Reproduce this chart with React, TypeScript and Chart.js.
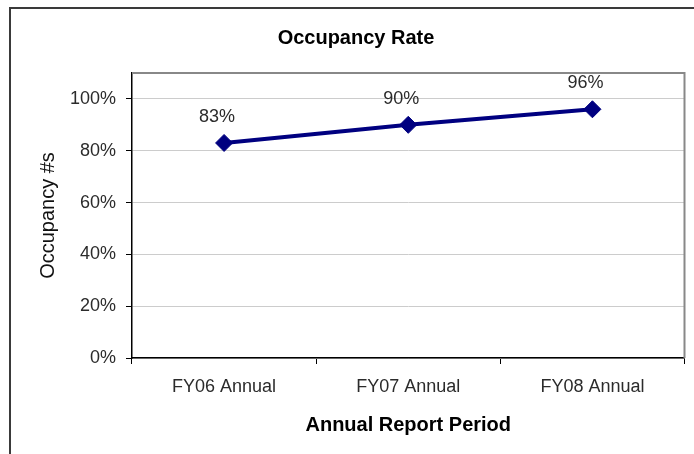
import React, { useEffect, useRef } from "react";
import { Chart, registerables } from "chart.js";

Chart.register(...registerables);

const chartTitle = "Occupancy Rate";
const categories = ["FY06 Annual", "FY07 Annual", "FY08 Annual"];
const occupancy = [83, 90, 96];
const yTicks = [0, 20, 40, 60, 80, 100];
const xAxisTitle = "Annual Report Period";
const yAxisTitle = "Occupancy #s";

const FONT = "'Liberation Sans', Arial, Helvetica, sans-serif";

const framePlugin = {
  id: "frame",
  beforeDraw(chart: any) {
    const { ctx, width, height } = chart;
    ctx.save();
    ctx.fillStyle = "#ffffff";
    ctx.fillRect(0, 0, width, height);
    ctx.strokeStyle = "#3a3a3a";
    ctx.lineWidth = 2;
    ctx.beginPath();
    ctx.moveTo(10, height);
    ctx.lineTo(10, 8);
    ctx.lineTo(width, 8);
    ctx.stroke();
    ctx.restore();
  },
  beforeDatasetsDraw(chart: any) {
    const { ctx, chartArea } = chart;
    ctx.save();
    ctx.strokeStyle = "#888888";
    ctx.lineWidth = 2;
    ctx.beginPath();
    ctx.moveTo(chartArea.left, chartArea.top);
    ctx.lineTo(chartArea.right, chartArea.top);
    ctx.lineTo(chartArea.right, chartArea.bottom);
    ctx.stroke();
    ctx.restore();
  },
};

const labelPlugin = {
  id: "valueLabels",
  afterDatasetsDraw(chart: any) {
    const { ctx } = chart;
    const meta = chart.getDatasetMeta(0);
    ctx.save();
    ctx.font = `18px ${FONT}`;
    ctx.fillStyle = "#2b2b2b";
    ctx.textAlign = "center";
    ctx.textBaseline = "middle";
    meta.data.forEach((pt: any, i: number) => {
      ctx.fillText(`${occupancy[i]}%`, pt.x - 7, pt.y - 26);
    });
    ctx.restore();
  },
};

export default function App() {
  const ref = useRef<HTMLCanvasElement>(null);

  useEffect(() => {
    if (!ref.current) return;
    const chart = new Chart(ref.current, {
      type: "line",
      data: {
        labels: categories,
        datasets: [
          {
            data: occupancy,
            borderColor: "#000080",
            backgroundColor: "#000080",
            borderWidth: 4,
            pointStyle: "rectRot",
            pointRadius: 8.5,
            pointBorderWidth: 1,
            pointBackgroundColor: "#000080",
            pointBorderColor: "#000080",
            tension: 0,
          },
        ],
      },
      options: {
        responsive: false,
        animation: false,
        layout: { padding: { left: 26, right: 8, top: 0, bottom: 0 } },
        plugins: {
          legend: { display: false },
          tooltip: { enabled: false },
          title: {
            display: true,
            text: chartTitle,
            color: "#000",
            font: { family: FONT, size: 20, weight: "bold" },
            padding: { top: 26, bottom: 23 },
          },
        },
        scales: {
          x: {
            type: "category",
            offset: true,
            grid: {
              offset: true,
              drawOnChartArea: false,
              drawTicks: true,
              tickLength: 6,
              tickColor: "#000",
              tickWidth: 1,
            },
            border: { display: true, color: "#000", width: 1.5 },
            ticks: {
              color: "#2b2b2b",
              font: { family: FONT, size: 18 },
              padding: 12,
              maxRotation: 0,
            },
            title: {
              display: true,
              text: xAxisTitle,
              color: "#000",
              font: { family: FONT, size: 20, weight: "bold" },
              padding: { top: 0, bottom: 17 },
            },
            afterFit(scale: any) {
              scale.height = 96;
            },
          },
          y: {
            min: 0,
            max: 110,
            grid: {
              color: "#cccccc",
              lineWidth: 1,
              tickLength: 6,
              tickColor: "#000",
            },
            border: { display: true, color: "#000", width: 1.5 },
            afterBuildTicks(scale: any) {
              scale.ticks = yTicks.map((v) => ({ value: v }));
            },
            ticks: {
              color: "#2b2b2b",
              font: { family: FONT, size: 18 },
              padding: 10,
              callback: (v: any) => `${v}%`,
            },
            title: {
              display: true,
              text: yAxisTitle,
              color: "#111",
              font: { family: FONT, size: 20 },
              padding: { top: 10, bottom: 0 },
            },
            afterFit(scale: any) {
              scale.width = 106;
            },
          },
        },
      },
      plugins: [framePlugin, labelPlugin],
    } as any);
    return () => chart.destroy();
  }, []);

  return (
    <canvas
      ref={ref}
      width={694}
      height={454}
      style={{ position: "absolute", left: 0, top: 0, display: "block" }}
    />
  );
}
